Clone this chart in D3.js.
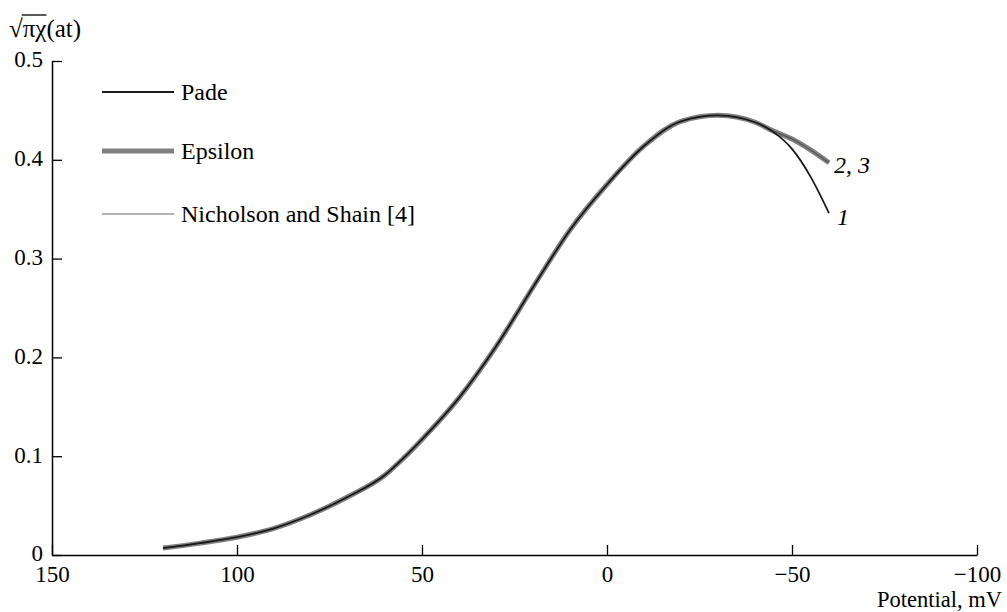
<!DOCTYPE html>
<html>
<head>
<meta charset="utf-8">
<script src="https://cdn.jsdelivr.net/npm/d3@7"></script>
<style>
body { margin: 0; background: #fff; }
svg, svg text { font-family: "Liberation Serif", "Times New Roman", "DejaVu Serif", serif; fill: #000; }
</style>
</head>
<body>
<div class="canvas"></div>
<script>
// data
const potential = [120, 110, 100, 90, 80, 70, 60, 55, 50, 40, 30, 20, 10, 0, -10, -20, -30, -40, -45, -50, -55, -60];
const padeVals = [0.007, 0.012, 0.018, 0.027, 0.041, 0.059, 0.081, 0.098, 0.117, 0.159, 0.211, 0.271, 0.329, 0.375, 0.414, 0.439, 0.445, 0.438, 0.428, 0.411, 0.383, 0.346];
const epsilonVals = [0.007, 0.012, 0.018, 0.027, 0.041, 0.059, 0.081, 0.098, 0.117, 0.159, 0.211, 0.271, 0.329, 0.375, 0.414, 0.439, 0.445, 0.438, 0.429, 0.421, 0.410, 0.397];
const nicholsonVals = [0.007, 0.012, 0.018, 0.027, 0.041, 0.059, 0.081, 0.098, 0.117, 0.159, 0.211, 0.271, 0.329, 0.375, 0.414, 0.439, 0.445, 0.438, 0.429, 0.421, 0.410, 0.397];
const xTicks = [150, 100, 50, 0, -50, -100];
const yTicks = [0, 0.1, 0.2, 0.3, 0.4, 0.5];
const seriesNames = ['Pade', 'Epsilon', 'Nicholson and Shain [4]'];

const serif = '"Liberation Serif", "Times New Roman", serif';
const dims = { width: 1007, height: 612 };
const plot = { left: 52, right: 977, top: 61, bottom: 555 };

const svg = d3.select('.canvas')
    .append('svg')
    .attr('width', dims.width)
    .attr('height', dims.height)
    .style('font-family', serif);

const x = d3.scaleLinear().domain([150, -100]).range([plot.left, plot.right]);
const y = d3.scaleLinear().domain([0, 0.5]).range([plot.bottom, plot.top]);

// axes, ticks point inward
const xAxis = d3.axisBottom(x)
    .tickValues(xTicks)
    .tickSizeInner(-10)
    .tickSizeOuter(0)
    .tickPadding(10.5)
    .tickFormat(d => d < 0 ? '\u2212' + Math.abs(d) : d);

const yAxis = d3.axisLeft(y)
    .tickValues(yTicks)
    .tickSizeInner(-10)
    .tickSizeOuter(0)
    .tickPadding(9)
    .tickFormat(d => d === 0 ? '0' : d3.format('.1f')(d));

const gx = svg.append('g')
    .attr('transform', `translate(0,${plot.bottom})`)
    .call(xAxis);
const gy = svg.append('g')
    .attr('transform', `translate(${plot.left},0)`)
    .call(yAxis);

[gx, gy].forEach(g => {
    g.attr('font-family', null).attr('font-size', null);
    g.select('.domain').attr('stroke', '#000').attr('stroke-width', 1.5);
    g.selectAll('.tick line').attr('stroke', '#000').attr('stroke-width', 1.3);
    g.selectAll('.tick text')
        .style('font-family', serif)
        .style('font-size', '23px')
        .attr('fill', '#000');
});
gy.selectAll('.tick text').attr('dy', '0.26em');

// curves
const soft = svg.append('defs').append('filter')
    .attr('id', 'soft')
    .attr('filterUnits', 'userSpaceOnUse')
    .attr('x', 0).attr('y', 0)
    .attr('width', dims.width).attr('height', dims.height);
soft.append('feGaussianBlur').attr('stdDeviation', 0.7);

const line = d3.line()
    .x(d => x(d[0]))
    .y(d => y(d[1]))
    .curve(d3.curveMonotoneX);

const pade = potential.map((p, i) => [p, padeVals[i]]);
const epsilon = potential.map((p, i) => [p, epsilonVals[i]]);
const nicholson = potential.map((p, i) => [p, nicholsonVals[i]]);

svg.append('path')
    .attr('d', line(epsilon))
    .attr('fill', 'none')
    .attr('stroke', '#808080')
    .attr('stroke-width', 5)
    .attr('filter', 'url(#soft)');

svg.append('path')
    .attr('d', line(nicholson))
    .attr('fill', 'none')
    .attr('stroke', '#555')
    .attr('stroke-width', 1.2);

svg.append('path')
    .attr('d', line(pade))
    .attr('fill', 'none')
    .attr('stroke', '#1a1a1a')
    .attr('stroke-width', 1.8);

// curve labels
const lab23 = svg.append('text')
    .attr('x', x(-60) + 5)
    .attr('y', y(epsilonVals[epsilonVals.length - 1]) + 10)
    .style('font-family', serif)
    .style('font-size', '24px');
lab23.append('tspan').style('font-style', 'italic').text('2');
lab23.append('tspan').text(', ');
lab23.append('tspan').style('font-style', 'italic').text('3');

svg.append('text')
    .attr('x', x(-60) + 8)
    .attr('y', y(padeVals[padeVals.length - 1]) + 12)
    .style('font-family', serif)
    .style('font-size', '24px')
    .style('font-style', 'italic')
    .text('1');

// legend
const legendStyles = [
    { stroke: '#1a1a1a', width: 2 },
    { stroke: '#808080', width: 5 },
    { stroke: '#6a6a6a', width: 1.2 }
];
const legendY = [92, 151, 214];
const legend = svg.append('g');
seriesNames.forEach((name, i) => {
    legend.append('line')
        .attr('x1', 102).attr('x2', 174)
        .attr('y1', legendY[i]).attr('y2', legendY[i])
        .attr('stroke', legendStyles[i].stroke)
        .attr('stroke-width', legendStyles[i].width)
        .attr('filter', i === 1 ? 'url(#soft)' : null);
    legend.append('text')
        .attr('x', 181)
        .attr('y', legendY[i] + 8)
        .style('font-family', serif)
        .style('font-size', '24px')
        .text(name);
});

// axis titles
svg.append('text')
    .attr('x', 1002)
    .attr('y', 606.5)
    .attr('text-anchor', 'end')
    .style('font-family', serif)
    .style('font-size', '22.5px')
    .text('Potential, mV');

const yTitle = svg.append('text')
    .attr('x', 9)
    .attr('y', 37)
    .style('font-family', serif)
    .style('font-size', '25px');
yTitle.append('tspan').text('\u221A');
yTitle.append('tspan').text('\u03C0\u03C7');
yTitle.append('tspan').text('(at)');

// bar of the square root over pi chi
const rootW = yTitle.node().getSubStringLength(0, 1);
const radW = yTitle.node().getSubStringLength(1, 2);
svg.append('line')
    .attr('x1', 9 + rootW - 1).attr('x2', 9 + rootW + radW)
    .attr('y1', 15).attr('y2', 15)
    .attr('stroke', '#000')
    .attr('stroke-width', 1.3);
</script>
</body>
</html>
